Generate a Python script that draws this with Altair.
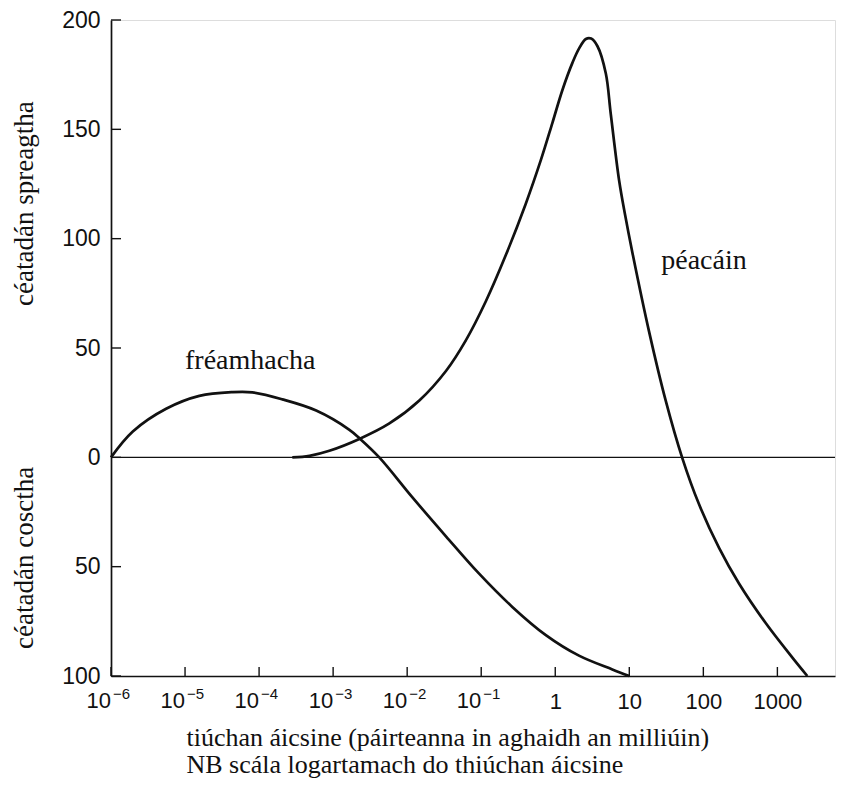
import altair as alt
import pandas as pd

# ---- data ----
root_x = [1e-6, 1.97e-6, 5.55e-6, 1.56e-5, 4.37e-5, 8.1e-5, 2.06e-4, 5.9e-4, 1.66e-3,
          2.24e-3, 4.2e-3, 1.17e-2, 3.34e-2, 9.3e-2, 0.263, 0.746, 2.09, 5.9, 10]
root_y = [0, 11.8, 22.2, 28.1, 29.8, 29.7, 26.5, 21.4, 12.6,
          8.9, 0, -18.2, -36.1, -53.1, -68.4, -81.3, -90.7, -97.0, -100]

shoot_x = [2.81e-4, 4.8e-4, 8.9e-4, 2.26e-3, 5.75e-3, 1.46e-2, 3.34e-2, 6.2e-2, 0.116,
           0.215, 0.40, 0.64, 0.916, 1.25, 1.71, 2.10, 2.59, 3.05, 3.72, 4.82, 5.62,
           7.28, 8.77, 11.0, 18.5, 31.1, 51.6, 87.5, 163, 303, 695, 1585, 2535]
shoot_y = [0, 0.7, 3.0, 8.4, 15.5, 26.0, 39.5, 53.5, 71.5,
           92.5, 116.0, 136.0, 153.0, 168.0, 180.5, 187.0, 191.3, 191.5, 188.0, 175.5, 157.0,
           126.7, 110.9, 93.7, 57.5, 25.8, 0, -21.5, -41.4, -57.7, -75.8, -91.5, -100]

x_ticks = [1e-6, 1e-5, 1e-4, 1e-3, 1e-2, 1e-1, 1, 10, 100, 1000]
x_tick_labels = ["", "", "", "", "", "", "1", "10", "100", "1000"]
# powers of ten below 1: base "10" with a raised exponent
pow_x = [1e-6, 1e-5, 1e-4, 1e-3, 1e-2, 1e-1]
pow_base = ["10", "10", "10", "10", "10", "10"]
pow_exp = ["−6", "−5", "−4", "−3", "−2", "−1"]

y_ticks = [-100, -50, 0, 50, 100, 150, 200]
y_tick_labels = ["100", "50", "0", "50", "100", "150", "200"]

curve_names = ["fréamhacha", "péacáin"]
curve_label_x = [7.6e-5, 102]
curve_label_y = [44.0, 90.0]

y_titles = ["céatadán spreagtha", "céatadán cosctha"]
y_title_pos = [116, -46]

x_title = ["tiúchan áicsine (páirteanna in aghaidh an milliúin)",
           "NB scála logartamach do thiúchan áicsine"]

# ---- tables ----
curves = pd.concat([
    pd.DataFrame({"x": root_x, "y": root_y, "s": "fréamhacha"}),
    pd.DataFrame({"x": shoot_x, "y": shoot_y, "s": "péacáin"}),
])
xt = pd.DataFrame({"x": x_ticks})
yt = pd.DataFrame({"y": y_ticks})
pw = pd.DataFrame({"x": pow_x, "b": pow_base, "e": pow_exp})
lab = pd.DataFrame({"x": curve_label_x, "y": curve_label_y, "t": curve_names})
ytl = pd.DataFrame({"y": y_title_pos, "t": y_titles})
zero = pd.DataFrame({"y": [0]})

W, H = 724, 656
INK = "#111111"
SERIF = "Liberation Serif, Times New Roman, serif"
SANS = "Liberation Sans Narrow, Liberation Sans, Arial, sans-serif"
LABEL_BASE = H + 32  # baseline of the x tick labels, in plot pixels

xs = alt.Scale(type="log", domain=[1e-6, 6000], nice=False)
ys = alt.Scale(domain=[-100, 200], nice=False, zero=False)

x_label_expr = "[" + ",".join("'%s'" % s for s in x_tick_labels) + "][round(log(datum.value)/LN10)+6]"
y_label_expr = "[" + ",".join("'%s'" % s for s in y_tick_labels) + "][round((datum.value+100)/50)]"

x_axis = alt.Axis(values=x_ticks, labelExpr=x_label_expr, ticks=False, grid=False,
                  domainColor=INK, domainWidth=1.7, labelFont=SANS, labelFontSize=22,
                  labelColor=INK, labelPadding=32, labelBaseline="alphabetic",
                  labelFlush=False, labelOverlap=False,
                  title=x_title, titleFont=SERIF, titleFontSize=26, titleFontWeight="normal",
                  titleColor=INK, titleAlign="left", titleBaseline="alphabetic",
                  titleX=75, titleY=69, titleLineHeight=27)
y_axis = alt.Axis(values=y_ticks, labelExpr=y_label_expr, ticks=False, grid=False,
                  domainColor=INK, domainWidth=1.7, labelFont=SANS, labelFontSize=23,
                  labelColor=INK, labelPadding=11, labelFlush=False, labelOverlap=False,
                  title=None)

lines = alt.Chart(curves).mark_line(color=INK, strokeWidth=2.7, interpolate="catmull-rom").encode(
    x=alt.X("x:Q", scale=xs, axis=x_axis),
    y=alt.Y("y:Q", scale=ys, axis=y_axis),
    detail="s:N",
)

zero_line = alt.Chart(zero).mark_rule(color=INK, strokeWidth=1.4).encode(
    y=alt.Y("y:Q", scale=ys)
)

x_tick_marks = alt.Chart(xt).mark_rule(color=INK, strokeWidth=1.4).encode(
    x=alt.X("x:Q", scale=xs), y=alt.value(H), y2=alt.value(H - 9)
)
y_tick_marks = alt.Chart(yt).mark_rule(color=INK, strokeWidth=1.4).encode(
    y=alt.Y("y:Q", scale=ys), x=alt.value(0), x2=alt.value(10)
)

pow_base_text = alt.Chart(pw).mark_text(font=SANS, fontSize=22, color=INK, align="right",
                                        baseline="alphabetic", dx=0).encode(
    x=alt.X("x:Q", scale=xs), y=alt.value(LABEL_BASE), text="b:N"
)
pow_exp_text = alt.Chart(pw).mark_text(font=SANS, fontSize=15, color=INK, align="left",
                                       baseline="alphabetic", dx=2, dy=-9).encode(
    x=alt.X("x:Q", scale=xs), y=alt.value(LABEL_BASE), text="e:N"
)

curve_text = alt.Chart(lab).mark_text(font=SERIF, fontSize=28, color=INK).encode(
    x=alt.X("x:Q", scale=xs), y=alt.Y("y:Q", scale=ys), text="t:N"
)

y_title_text = alt.Chart(ytl).mark_text(font=SERIF, fontSize=27, color=INK, angle=270).encode(
    x=alt.value(-86), y=alt.Y("y:Q", scale=ys), text="t:N"
)

chart = alt.layer(
    zero_line, x_tick_marks, y_tick_marks, lines, pow_base_text, pow_exp_text,
    curve_text, y_title_text
).properties(
    width=W, height=H,
    autosize=alt.AutoSizeParams(type="none"),
    padding={"left": 103, "top": 12, "right": 1, "bottom": 104},
).configure_view(stroke=None).configure(background="white")

chart.save("out.html", embed_options={"renderer": "svg", "actions": False})
